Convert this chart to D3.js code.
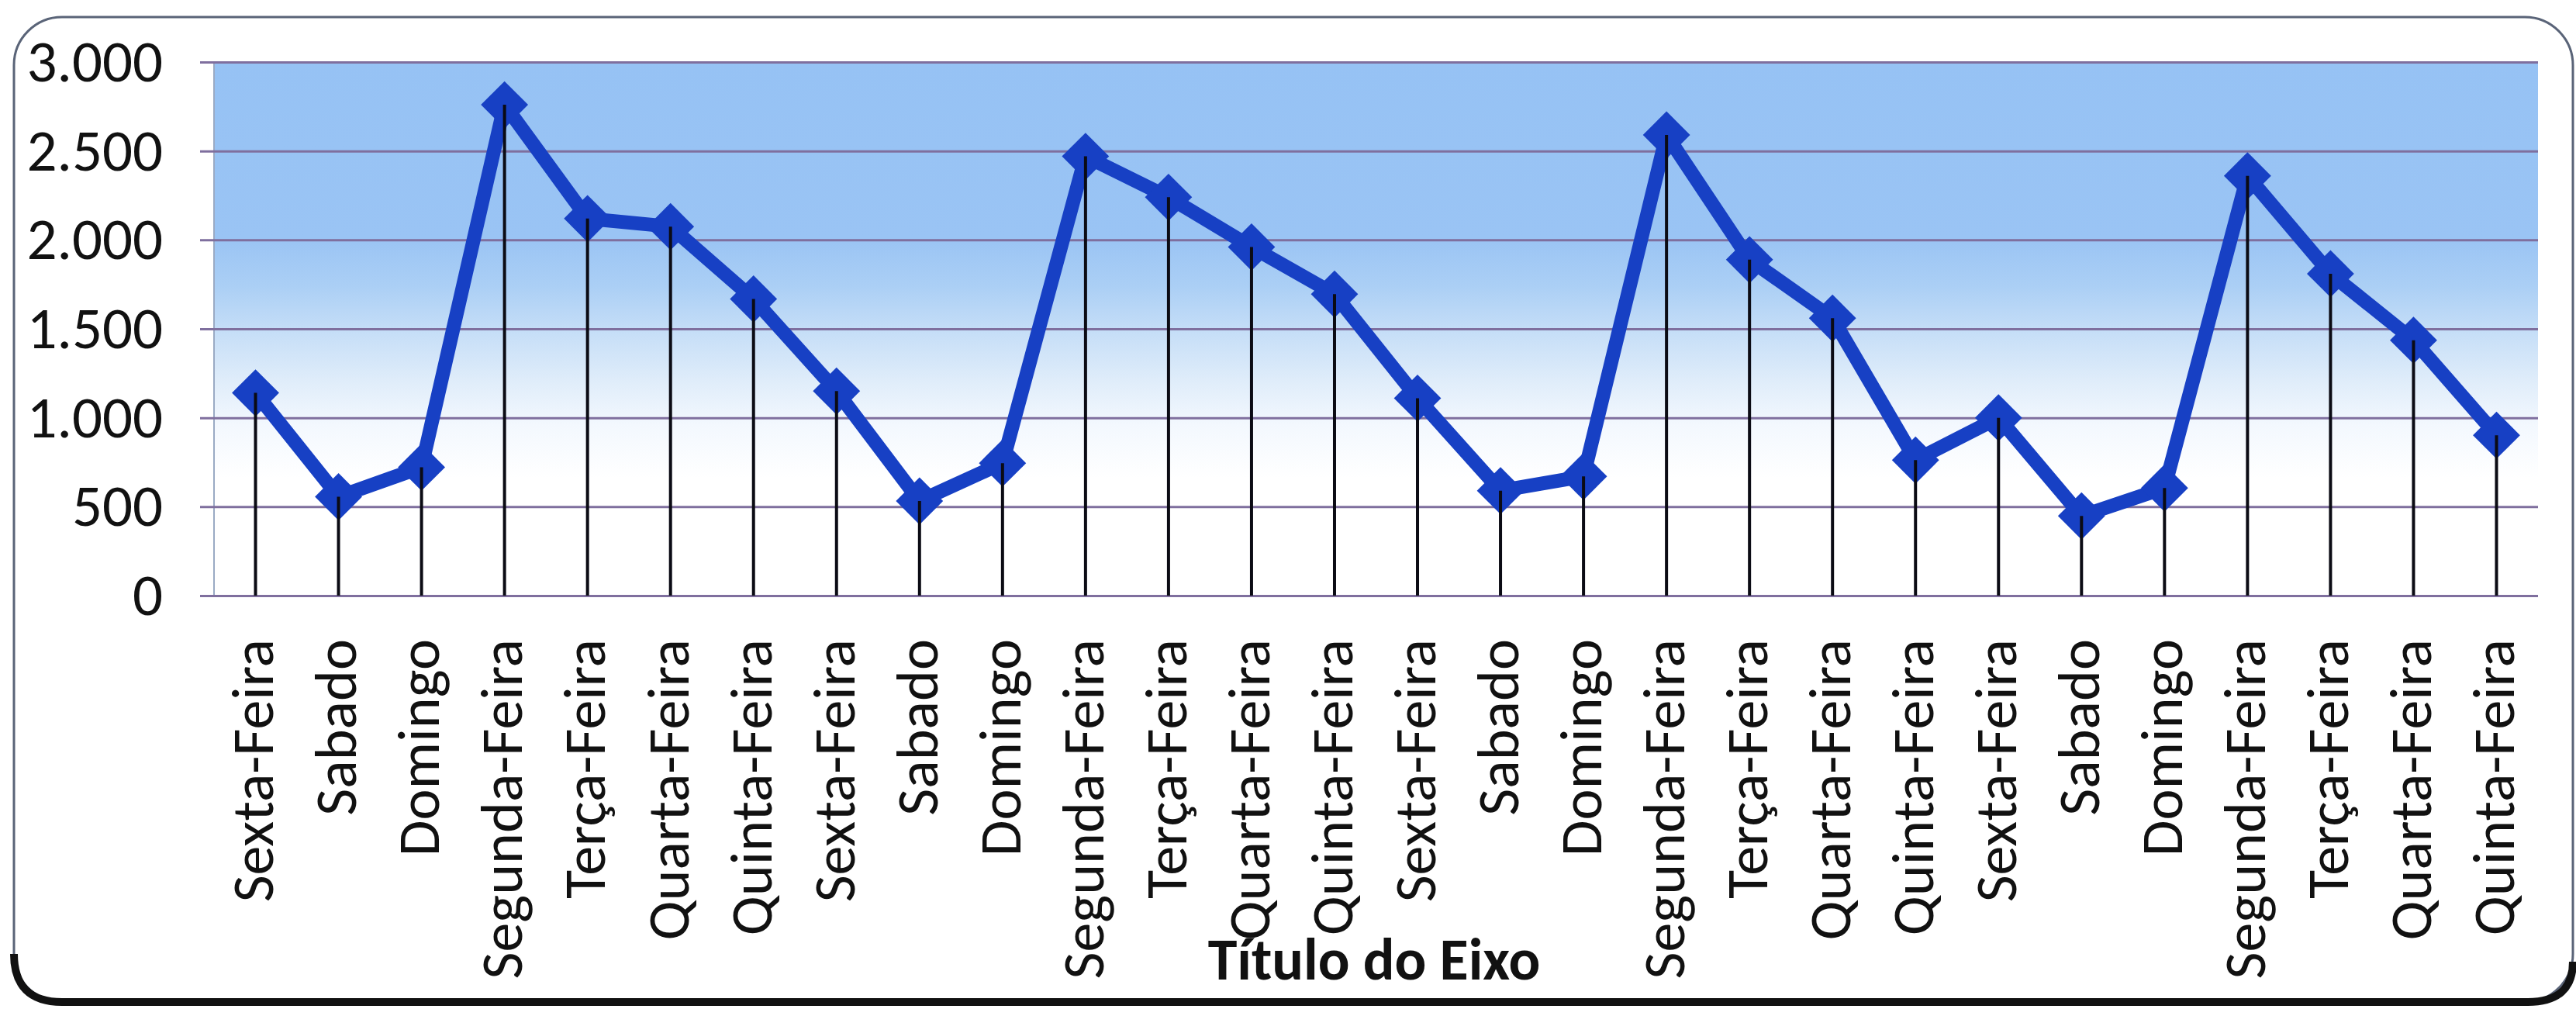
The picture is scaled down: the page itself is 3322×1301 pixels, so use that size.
<!DOCTYPE html>
<html><head><meta charset="utf-8">
<script src="https://cdn.jsdelivr.net/npm/d3@7"></script>
<style>body{margin:0;background:#fff}svg{display:block}</style>
</head><body>
<svg id="c" width="3322" height="1301"></svg>
<script>
const categories = ["Sexta-Feira","Sabado","Domingo","Segunda-Feira","Terça-Feira","Quarta-Feira","Quinta-Feira",
  "Sexta-Feira","Sabado","Domingo","Segunda-Feira","Terça-Feira","Quarta-Feira","Quinta-Feira",
  "Sexta-Feira","Sabado","Domingo","Segunda-Feira","Terça-Feira","Quarta-Feira","Quinta-Feira",
  "Sexta-Feira","Sabado","Domingo","Segunda-Feira","Terça-Feira","Quarta-Feira","Quinta-Feira"];
const values = [1140, 556, 722, 2760, 2120, 2075, 1668,
  1150, 532, 745, 2470, 2240, 1960, 1695,
  1110, 590, 670, 2590, 1889, 1560, 762,
  1000, 448, 605, 2360, 1810, 1436, 902];
const yTicks = [0, 500, 1000, 1500, 2000, 2500, 3000];
const axisTitle = "Título do Eixo";

const FONT = "Carlito, Calibri, Lato, 'Open Sans', sans-serif";
const plot = {left: 276, right: 3273, top: 80, bottom: 768};
const svg = d3.select("#c");
const defs = svg.append("defs");

const grad = defs.append("linearGradient").attr("id", "bg")
  .attr("x1", 0).attr("y1", 0).attr("x2", 0).attr("y2", 1);
[[0, "#96c2f4"], [0.33, "#9ac4f4"], [0.42, "#abcff5"], [0.5, "#c4ddf7"],
 [0.6, "#e0edfa"], [0.68, "#f3f8fe"], [0.78, "#ffffff"], [1, "#ffffff"]]
  .forEach(([o, c]) => grad.append("stop").attr("offset", o).attr("stop-color", c));

// chart frame
svg.append("rect").attr("x", 18).attr("y", 22).attr("width", 3300).attr("height", 1270)
  .attr("rx", 62).attr("fill", "#fff").attr("stroke", "#5a6478").attr("stroke-width", 3);
svg.append("path")
  .attr("d", "M18,1230 Q18,1292 80,1292 L3260,1292 Q3318,1292 3318,1240")
  .attr("fill", "none").attr("stroke", "#111").attr("stroke-width", 10);

const x = d3.scaleBand().domain(d3.range(categories.length)).range([plot.left, plot.right]);
const cx = i => x(i) + x.bandwidth() / 2;
const y = d3.scaleLinear().domain([0, 3000]).range([plot.bottom, plot.top]);

// plot background
svg.append("rect").attr("x", plot.left).attr("y", plot.top)
  .attr("width", plot.right - plot.left).attr("height", plot.bottom - plot.top)
  .attr("fill", "url(#bg)");
svg.append("line").attr("x1", plot.left).attr("x2", plot.left)
  .attr("y1", plot.top).attr("y2", plot.bottom)
  .attr("stroke", "#9aaac4").attr("stroke-width", 2);

// y axis + gridlines
const loc = d3.formatLocale({decimal: ",", thousands: ".", grouping: [3], currency: ["R$", ""]});
const fmt = loc.format(",d");
const gy = svg.append("g").attr("transform", `translate(${plot.right},0)`)
  .call(d3.axisLeft(y).tickValues(yTicks).tickFormat(fmt)
    .tickSize(plot.right - 258).tickPadding(48));
gy.select(".domain").remove();
gy.selectAll(".tick line").attr("stroke", "#7f6f9e").attr("stroke-width", 3);
gy.selectAll(".tick text").attr("font-family", FONT).attr("font-size", 77).attr("fill", "#111");

// x axis labels
const gx = svg.append("g").attr("transform", `translate(0,${plot.bottom})`)
  .call(d3.axisBottom(x).tickSize(0).tickFormat(i => categories[i]));
gx.select(".domain").remove();
gx.selectAll(".tick text")
  .attr("transform", "rotate(-90)")
  .attr("x", -56).attr("y", 0).attr("dy", "0.3em")
  .attr("text-anchor", "end")
  .attr("font-family", FONT).attr("font-size", 76).attr("fill", "#111");

// series line
const lineGen = d3.line().x((d, i) => cx(i)).y(d => y(d));
svg.append("path").datum(values).attr("d", lineGen)
  .attr("fill", "none").attr("stroke", "#1740c4").attr("stroke-width", 18)
  .attr("stroke-linejoin", "round");

// markers
const sym = d3.symbol(d3.symbolSquare, 1850);
svg.append("g").selectAll("path").data(values).join("path")
  .attr("d", sym)
  .attr("transform", (d, i) => `translate(${cx(i)},${y(d)}) rotate(45)`)
  .attr("fill", "#1740c4");

// drop lines
svg.append("g").selectAll("line").data(values).join("line")
  .attr("x1", (d, i) => cx(i)).attr("x2", (d, i) => cx(i))
  .attr("y1", d => y(d)).attr("y2", y(0))
  .attr("stroke", "#0b0b14").attr("stroke-width", 4);

// axis title
svg.append("text").attr("x", 1772).attr("y", 1263)
  .attr("text-anchor", "middle").attr("font-family", FONT)
  .attr("font-weight", "bold").attr("font-size", 76).attr("fill", "#111")
  .text(axisTitle);
</script>
</body></html>
